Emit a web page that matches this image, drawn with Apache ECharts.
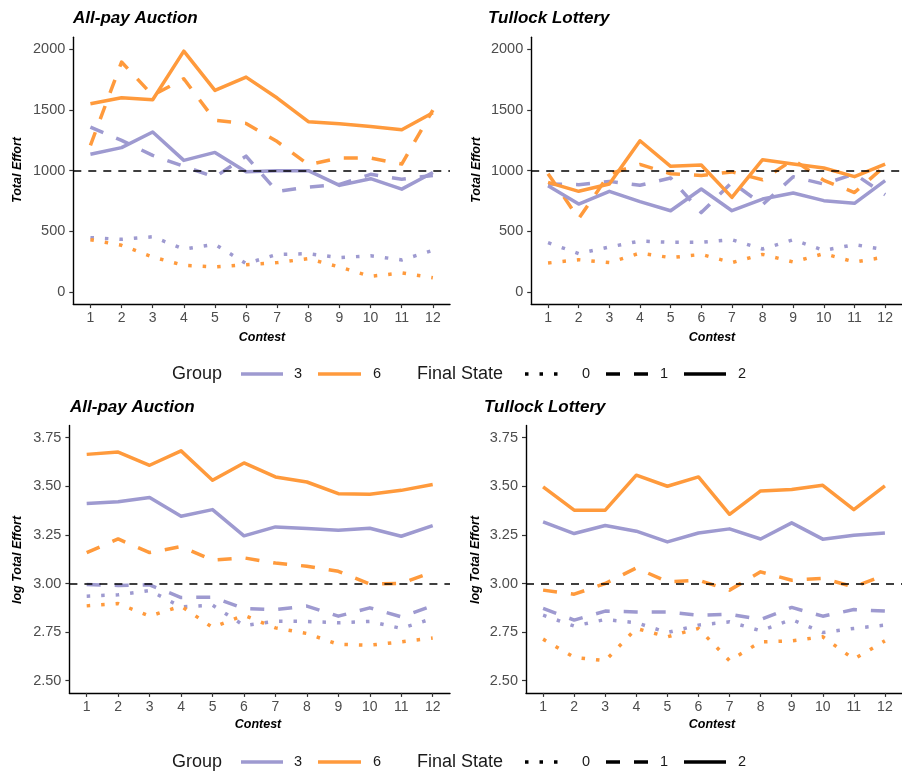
<!DOCTYPE html>
<html><head><meta charset="utf-8">
<script src="https://cdn.jsdelivr.net/npm/echarts@6/dist/echarts.min.js"></script>
<style>html,body{margin:0;padding:0;background:#fff}#c{width:902px;height:771px}</style>
</head><body><div id="c"></div>
<script>
// ---------- data ----------
const contests = [1,2,3,4,5,6,7,8,9,10,11,12];
const levelTicks = [0,500,1000,1500,2000];
const logTicks = [2.5,2.75,3.0,3.25,3.5,3.75];
const levelRef = 1000;
const logRef = 3.0;
const groups = ['3','6'];
const finalStates = ['0','1','2'];

// All-pay Auction, Total Effort
const apLevel_g3_s0 = [448, 434, 455, 354, 393, 234, 310, 316, 283, 299, 264, 343];
const apLevel_g3_s1 = [1360, 1250, 1126, 1036, 948, 1120, 828, 865, 887, 970, 930, 960];
const apLevel_g3_s2 = [1135, 1190, 1319, 1085, 1151, 992, 1000, 1000, 879, 934, 848, 985];
const apLevel_g6_s0 = [431, 385, 288, 220, 206, 225, 242, 275, 206, 129, 157, 118];
const apLevel_g6_s1 = [1209, 1896, 1621, 1758, 1415, 1390, 1240, 1050, 1104, 1104, 1055, 1500];
const apLevel_g6_s2 = [1552, 1602, 1585, 1986, 1662, 1772, 1599, 1404, 1387, 1365, 1338, 1478];

// Tullock Lottery, Total Effort
const tlLevel_g3_s0 = [407, 316, 371, 420, 409, 409, 431, 354, 431, 343, 390, 349];
const tlLevel_g3_s1 = [890, 885, 912, 880, 940, 655, 904, 720, 950, 890, 973, 802];
const tlLevel_g3_s2 = [876, 725, 830, 745, 670, 849, 670, 766, 816, 753, 731, 918];
const tlLevel_g6_s0 = [239, 266, 242, 321, 283, 310, 242, 310, 247, 316, 247, 288];
const tlLevel_g6_s1 = [975, 605, 973, 1052, 975, 960, 990, 925, 1090, 920, 820, 1040];
const tlLevel_g6_s2 = [904, 830, 890, 1247, 1036, 1047, 780, 1091, 1055, 1022, 951, 1055];

// All-pay Auction, log Total Effort
const apLog_g3_s0 = [2.935, 2.942, 2.964, 2.880, 2.889, 2.784, 2.806, 2.805, 2.798, 2.805, 2.769, 2.820];
const apLog_g3_s1 = [2.995, 2.990, 2.993, 2.928, 2.930, 2.872, 2.866, 2.884, 2.832, 2.875, 2.829, 2.885];
const apLog_g3_s2 = [3.411, 3.420, 3.442, 3.346, 3.380, 3.245, 3.291, 3.283, 3.274, 3.284, 3.243, 3.298];
const apLog_g6_s0 = [2.885, 2.897, 2.832, 2.884, 2.774, 2.837, 2.772, 2.743, 2.687, 2.683, 2.700, 2.720];
const apLog_g6_s1 = [3.159, 3.229, 3.159, 3.190, 3.120, 3.132, 3.105, 3.089, 3.063, 2.997, 3.000, 3.060];
const apLog_g6_s2 = [3.664, 3.676, 3.608, 3.682, 3.531, 3.620, 3.548, 3.522, 3.462, 3.459, 3.479, 3.509];

// Tullock Lottery, log Total Effort
const tlLog_g3_s0 = [2.837, 2.781, 2.815, 2.798, 2.748, 2.786, 2.803, 2.757, 2.815, 2.748, 2.769, 2.786];
const tlLog_g3_s1 = [2.872, 2.812, 2.858, 2.854, 2.854, 2.837, 2.842, 2.815, 2.877, 2.832, 2.866, 2.858];
const tlLog_g3_s2 = [3.317, 3.257, 3.298, 3.269, 3.214, 3.260, 3.281, 3.229, 3.312, 3.228, 3.248, 3.260];
const tlLog_g6_s0 = [2.714, 2.620, 2.603, 2.769, 2.726, 2.769, 2.603, 2.700, 2.705, 2.726, 2.611, 2.705];
const tlLog_g6_s1 = [2.966, 2.945, 3.000, 3.080, 3.009, 3.017, 2.966, 3.060, 3.017, 3.026, 2.983, 3.043];
const tlLog_g6_s2 = [3.497, 3.377, 3.377, 3.557, 3.500, 3.548, 3.356, 3.476, 3.483, 3.505, 3.380, 3.502];

// ---------- styling ----------
const FONT = '"Liberation Sans", Arial, Helvetica, sans-serif';
const PURPLE = '#9e9ad0';
const ORANGE = '#ff9a3c';
const groupColor = {'3': PURPLE, '6': ORANGE};
const stateDash = {'0': [3.5, 11], '1': [14, 14], '2': 'solid'};
const LW = 3.5;

const panels = [
  {title:'All-pay Auction', yName:'Total Effort', grid:{left:73.3, top:37.3, width:376.7, height:266.8},
   ymin:-100, ymax:2100, ticks:levelTicks, ref:levelRef, fmt:v=>String(v),
   data:{'3':[apLevel_g3_s0, apLevel_g3_s1, apLevel_g3_s2], '6':[apLevel_g6_s0, apLevel_g6_s1, apLevel_g6_s2]},
   titlePos:[73,18], yNamePos:[18,170], xNamePos:[262,338]},
  {title:'Tullock Lottery', yName:'Total Effort', grid:{left:531.2, top:37.3, width:376.6, height:266.8},
   ymin:-100, ymax:2100, ticks:levelTicks, ref:levelRef, fmt:v=>String(v),
   data:{'3':[tlLevel_g3_s0, tlLevel_g3_s1, tlLevel_g3_s2], '6':[tlLevel_g6_s0, tlLevel_g6_s1, tlLevel_g6_s2]},
   titlePos:[488,18], yNamePos:[477,170], xNamePos:[712,338]},
  {title:'All-pay Auction', yName:'log Total Effort', grid:{left:69.4, top:425.5, width:380.6, height:267.4},
   ymin:2.4375, ymax:3.8125, ticks:logTicks, ref:logRef, fmt:v=>v.toFixed(2),
   data:{'3':[apLog_g3_s0, apLog_g3_s1, apLog_g3_s2], '6':[apLog_g6_s0, apLog_g6_s1, apLog_g6_s2]},
   titlePos:[70,407], yNamePos:[18,560], xNamePos:[258,725]},
  {title:'Tullock Lottery', yName:'log Total Effort', grid:{left:526, top:425.5, width:381.3, height:267.4},
   ymin:2.4375, ymax:3.8125, ticks:logTicks, ref:logRef, fmt:v=>v.toFixed(2),
   data:{'3':[tlLog_g3_s0, tlLog_g3_s1, tlLog_g3_s2], '6':[tlLog_g6_s0, tlLog_g6_s1, tlLog_g6_s2]},
   titlePos:[484,407], yNamePos:[476,560], xNamePos:[712,725]}
];

const grids = [], xAxes = [], yAxes = [], series = [], graphics = [];

panels.forEach((p, i) => {
  grids.push(Object.assign({containLabel:false}, p.grid));
  xAxes.push({
    gridIndex:i, type:'value', min:0.45, max:12.55,
    axisLine:{show:true, onZero:false, lineStyle:{color:'#000', width:1.4}},
    axisTick:{show:true, length:4, customValues:contests, lineStyle:{color:'#333', width:1.2}},
    axisLabel:{customValues:contests, color:'#4d4d4d', fontSize:14, fontFamily:FONT, margin:7},
    splitLine:{show:false}
  });
  yAxes.push({
    gridIndex:i, type:'value', min:p.ymin, max:p.ymax,
    axisLine:{show:true, onZero:false, lineStyle:{color:'#000', width:1.4}},
    axisTick:{show:true, length:4, customValues:p.ticks, lineStyle:{color:'#333', width:1.2}},
    axisLabel:{customValues:p.ticks, color:'#4d4d4d', fontSize:14.5, fontFamily:FONT, margin:8, formatter:p.fmt},
    splitLine:{show:false}
  });
  let first = true;
  finalStates.forEach((st, si) => {
    groups.forEach(g => {
      const vals = p.data[g][si];
      const s = {
        type:'line', xAxisIndex:i, yAxisIndex:i, name:'G'+g+' S'+st,
        data: contests.map((c, k) => [c, vals[k]]),
        symbol:'none', silent:true, animation:false,
        lineStyle:{color:groupColor[g], width:LW, type:stateDash[st], cap:'butt', join:'round'}
      };
      if (first) {
        s.markLine = {silent:true, symbol:'none', animation:false, label:{show:false},
          lineStyle:{color:'#000', width:1.6, type:[8,7]}, data:[{yAxis:p.ref}]};
        first = false;
      }
      series.push(s);
    });
  });
  graphics.push({type:'text', x:p.titlePos[0], y:p.titlePos[1],
    style:{text:p.title, font:'italic bold 17px ' + FONT, fill:'#000', textAlign:'left', textVerticalAlign:'middle'}});
  graphics.push({type:'text', x:p.yNamePos[0], y:p.yNamePos[1], rotation:Math.PI/2,
    style:{text:p.yName, font:'italic bold 12.5px ' + FONT, fill:'#000', textAlign:'center', textVerticalAlign:'middle'}});
  graphics.push({type:'text', x:p.xNamePos[0], y:p.xNamePos[1],
    style:{text:'Contest', font:'italic bold 12.5px ' + FONT, fill:'#000', textAlign:'center', textVerticalAlign:'middle'}});
});

// legends
[374, 762].forEach(ly => {
  const txt = (x, t, size, align) => graphics.push({type:'text', x:x, y:ly,
    style:{text:t, font:size + 'px ' + FONT, fill:'#1a1a1a', textAlign:align || 'center', textVerticalAlign:'middle'}});
  const ln = (x1, x2, color, dash) => graphics.push({type:'line', shape:{x1:x1, y1:ly, x2:x2, y2:ly},
    style:{stroke:color, lineWidth:LW, lineDash:dash === 'solid' ? null : dash, lineCap:'butt'}});
  txt(172, 'Group', 18, 'left');
  ln(241, 283, groupColor['3'], 'solid'); txt(298, '3', 14.5);
  ln(318, 361, groupColor['6'], 'solid'); txt(377, '6', 14.5);
  txt(417, 'Final State', 18, 'left');
  ln(525, 567, '#000', stateDash['0']); txt(586, '0', 14.5);
  ln(606, 648, '#000', stateDash['1']); txt(664, '1', 14.5);
  ln(684, 726, '#000', stateDash['2']); txt(742, '2', 14.5);
});

const chart = echarts.init(document.getElementById('c'), null, {renderer:'canvas'});
chart.setOption({
  animation:false,
  backgroundColor:'#fff',
  textStyle:{fontFamily:FONT},
  grid:grids, xAxis:xAxes, yAxis:yAxes, series:series, graphic:graphics
});
</script></body></html>
